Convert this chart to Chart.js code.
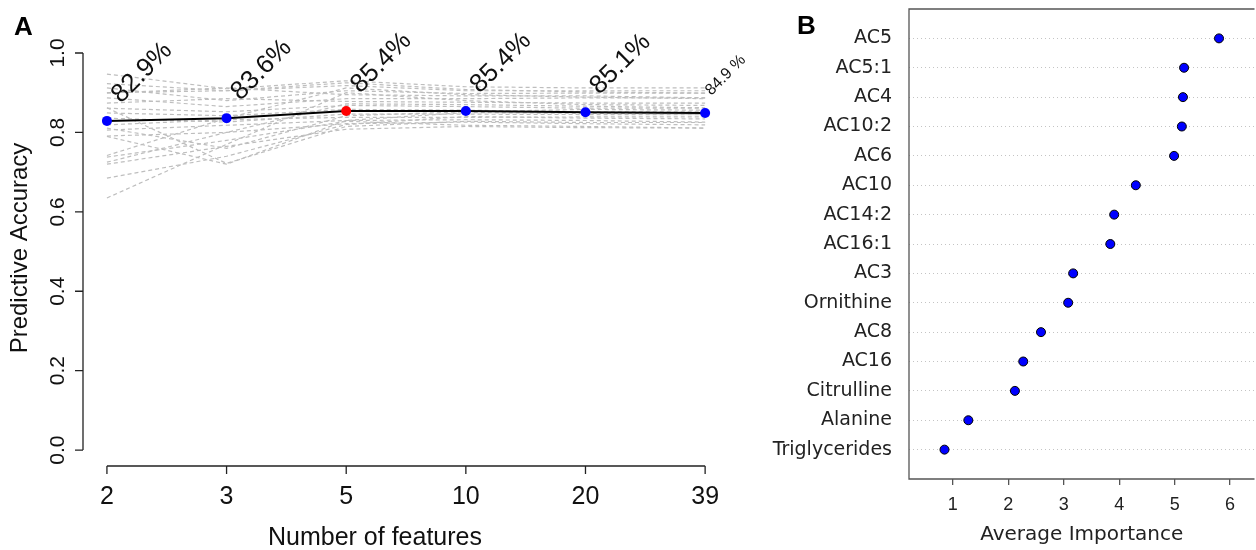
<!DOCTYPE html>
<html>
<head>
<meta charset="utf-8">
<script src="https://cdn.jsdelivr.net/npm/chart.js@4"></script>
<style>
  html, body { margin: 0; padding: 0; background: #fff; overflow: hidden; }
  #wrap { position: relative; width: 1256px; height: 550px; overflow: hidden; }
  #chartA { position: absolute; left: 0; top: 0; }
  #chartB { position: absolute; left: 760px; top: 0; }
</style>
</head>
<body>
<div id="wrap">
  <canvas id="chartA" width="770" height="550"></canvas>
  <canvas id="chartB" width="500" height="550"></canvas>
</div>
<script>
// panel A: accuracy vs number of features
const featureCounts = ["2", "3", "5", "10", "20", "39"];
const meanAccuracy = [0.829, 0.836, 0.854, 0.854, 0.851, 0.849];
const accuracyLabels = ["82.9%", "83.6%", "85.4%", "85.4%", "85.1%", "84.9 %"];
const pointColors = ["#0000ff", "#0000ff", "#ff0000", "#0000ff", "#0000ff", "#0000ff"];
const accuracyTicks = [0, 0.2, 0.4, 0.6, 0.8, 1.0];

// single runs (grey dashed)
const runs = [
  [0.947, 0.910, 0.930, 0.915, 0.912, 0.912],
  [0.923, 0.905, 0.918, 0.905, 0.905, 0.905],
  [0.912, 0.880, 0.905, 0.898, 0.899, 0.899],
  [0.899, 0.912, 0.895, 0.892, 0.892, 0.887],
  [0.887, 0.865, 0.885, 0.885, 0.887, 0.887],
  [0.874, 0.885, 0.878, 0.876, 0.874, 0.874],
  [0.861, 0.852, 0.868, 0.865, 0.861, 0.861],
  [0.849, 0.842, 0.858, 0.856, 0.852, 0.852],
  [0.836, 0.826, 0.846, 0.846, 0.845, 0.845],
  [0.819, 0.832, 0.838, 0.838, 0.839, 0.839],
  [0.806, 0.818, 0.830, 0.832, 0.830, 0.826],
  [0.791, 0.800, 0.822, 0.826, 0.822, 0.819],
  [0.738, 0.780, 0.828, 0.818, 0.815, 0.811],
  [0.720, 0.765, 0.808, 0.815, 0.812, 0.811],
  [0.685, 0.740, 0.820, 0.840, 0.836, 0.834],
  [0.635, 0.770, 0.900, 0.880, 0.870, 0.868],
  [0.742, 0.836, 0.912, 0.895, 0.889, 0.885],
  [0.725, 0.800, 0.872, 0.870, 0.866, 0.862],
  [0.790, 0.720, 0.830, 0.850, 0.848, 0.846],
  [0.862, 0.722, 0.815, 0.828, 0.825, 0.825],
  [0.900, 0.905, 0.925, 0.908, 0.902, 0.899],
  [0.811, 0.760, 0.842, 0.852, 0.858, 0.856]
];

// panel B: average importance
const features = ["AC5", "AC5:1", "AC4", "AC10:2", "AC6", "AC10", "AC14:2", "AC16:1",
  "AC3", "Ornithine", "AC8", "AC16", "Citrulline", "Alanine", "Triglycerides"];
const importance = [5.80, 5.17, 5.15, 5.13, 4.99, 4.30, 3.91, 3.84,
  3.17, 3.08, 2.59, 2.27, 2.12, 1.28, 0.85];
const importanceTicks = [1, 2, 3, 4, 5, 6];

const axisColor = "#222";

const toPoints = (arr) => arr.map((v, i) => ({ x: i, y: v }));

const panelAAxes = {
  id: "panelAAxes",
  afterDraw(chart) {
    const { ctx, chartArea, scales } = chart;
    const xs = scales.x, ys = scales.y;
    ctx.save();
    ctx.strokeStyle = axisColor;
    ctx.lineWidth = 1.3;
    ctx.fillStyle = "#111";

    // y axis
    const ax = chartArea.left;
    ctx.beginPath();
    ctx.moveTo(ax, ys.getPixelForValue(0));
    ctx.lineTo(ax, ys.getPixelForValue(1));
    accuracyTicks.forEach((t) => {
      const y = ys.getPixelForValue(t);
      ctx.moveTo(ax, y);
      ctx.lineTo(ax - 8, y);
    });
    ctx.stroke();
    ctx.font = "21px 'Liberation Sans', Arial, sans-serif";
    ctx.textAlign = "center";
    ctx.textBaseline = "middle";
    accuracyTicks.forEach((t) => {
      ctx.save();
      ctx.translate(58, ys.getPixelForValue(t));
      ctx.rotate(-Math.PI / 2);
      ctx.fillText(t.toFixed(1), 0, 0);
      ctx.restore();
    });

    // x axis
    const by = chartArea.bottom;
    ctx.beginPath();
    ctx.moveTo(xs.getPixelForValue(0), by);
    ctx.lineTo(xs.getPixelForValue(featureCounts.length - 1), by);
    featureCounts.forEach((f, i) => {
      const x = xs.getPixelForValue(i);
      ctx.moveTo(x, by);
      ctx.lineTo(x, by + 8);
    });
    ctx.stroke();
    ctx.font = "25px 'Liberation Sans', Arial, sans-serif";
    featureCounts.forEach((f, i) => {
      ctx.fillText(f, xs.getPixelForValue(i), 497);
    });

    // titles
    ctx.fillText("Number of features", 375, 538);
    ctx.save();
    ctx.translate(20, 248);
    ctx.rotate(-Math.PI / 2);
    ctx.font = "24px 'Liberation Sans', Arial, sans-serif";
    ctx.fillText("Predictive Accuracy", 0, 0);
    ctx.restore();

    // accuracy labels at 45 degrees
    ctx.textAlign = "left";
    ctx.textBaseline = "alphabetic";
    meanAccuracy.forEach((v, i) => {
      const last = i === meanAccuracy.length - 1;
      ctx.save();
      ctx.translate(xs.getPixelForValue(i) + (last ? 6 : 14), ys.getPixelForValue(v) - 17);
      ctx.rotate(-Math.PI / 4);
      ctx.font = (last ? "16px" : "26px") + " 'Liberation Sans', Arial, sans-serif";
      ctx.fillText(accuracyLabels[i], 0, 0);
      ctx.restore();
    });

    // panel letter
    ctx.font = "bold 26px 'Liberation Sans', Arial, sans-serif";
    ctx.fillStyle = "#000";
    ctx.fillText("A", 14, 35);
    ctx.restore();
  }
};

new Chart(document.getElementById("chartA"), {
  type: "line",
  data: {
    datasets: [
      {
        data: toPoints(meanAccuracy),
        borderColor: "#000",
        borderWidth: 2,
        pointRadius: 5,
        pointBackgroundColor: pointColors,
        pointBorderWidth: 0,
        tension: 0
      },
      ...runs.map((r) => ({
        data: toPoints(r),
        borderColor: "#bebebe",
        borderWidth: 1.2,
        borderDash: [4, 3],
        pointRadius: 0,
        tension: 0
      }))
    ]
  },
  options: {
    responsive: false,
    animation: false,
    layout: { padding: { left: 83, right: 23, top: 53, bottom: 84 } },
    plugins: { legend: { display: false }, tooltip: { enabled: false } },
    scales: {
      x: { type: "linear", display: false, min: -0.2, max: 5.35 },
      y: { type: "linear", display: false, min: -0.04, max: 1.0 }
    }
  },
  plugins: [panelAAxes]
});

const panelBFrame = {
  id: "panelBFrame",
  afterDraw(chart) {
    const { ctx, chartArea } = chart;
    ctx.save();
    ctx.strokeStyle = "#555";
    ctx.lineWidth = 1.3;
    ctx.beginPath();
    ctx.moveTo(chartArea.right, chartArea.top);
    ctx.lineTo(chartArea.left, chartArea.top);
    ctx.lineTo(chartArea.left, chartArea.bottom);
    ctx.lineTo(chartArea.right, chartArea.bottom);
    ctx.stroke();
    ctx.fillStyle = "#222";
    ctx.font = "20px 'DejaVu Sans', Verdana, sans-serif";
    ctx.textAlign = "center";
    ctx.textBaseline = "middle";
    ctx.fillText("Average Importance", (chartArea.left + chartArea.right) / 2, 535);
    ctx.fillStyle = "#000";
    ctx.textAlign = "left";
    ctx.textBaseline = "alphabetic";
    ctx.font = "bold 26px 'Liberation Sans', Arial, sans-serif";
    ctx.fillText("B", 37, 34);
    ctx.restore();
  }
};

new Chart(document.getElementById("chartB"), {
  type: "scatter",
  data: {
    datasets: [{
      data: importance.map((v, i) => ({ x: v, y: i })),
      pointRadius: 4.5,
      pointBackgroundColor: "#0000ff",
      pointBorderColor: "#000",
      pointBorderWidth: 1
    }]
  },
  options: {
    responsive: false,
    animation: false,
    layout: { padding: { left: 0, right: 2, top: 9, bottom: 0 } },
    plugins: { legend: { display: false }, tooltip: { enabled: false } },
    scales: {
      x: {
        type: "linear",
        min: 0.21,
        max: 6.44,
        afterBuildTicks: (s) => { s.ticks = importanceTicks.map((v) => ({ value: v })); },
        afterFit: (s) => { s.height = 71; s.paddingLeft = 0; s.paddingRight = 0; },
        grid: { drawOnChartArea: false, drawTicks: true, tickLength: 6, color: "#555", lineWidth: 1.3 },
        border: { display: false },
        ticks: { padding: 9, color: "#222", font: { family: "'Liberation Sans', Arial, sans-serif", size: 18 } }
      },
      y: {
        type: "linear",
        reverse: true,
        min: -1,
        max: 15,
        afterBuildTicks: (s) => { s.ticks = features.map((f, i) => ({ value: i })); },
        afterFit: (s) => { s.width = 149; s.paddingTop = 0; s.paddingBottom = 0; },
        grid: { color: "#c4c4c4", drawTicks: false, lineWidth: 1 },
        border: { display: false, dash: [1, 3] },
        ticks: {
          autoSkip: false,
          padding: 17,
          color: "#222",
          font: { family: "'DejaVu Sans', Verdana, sans-serif", size: 19 },
          callback: (v) => features[v]
        }
      }
    }
  },
  plugins: [panelBFrame]
});
</script>
</body>
</html>
